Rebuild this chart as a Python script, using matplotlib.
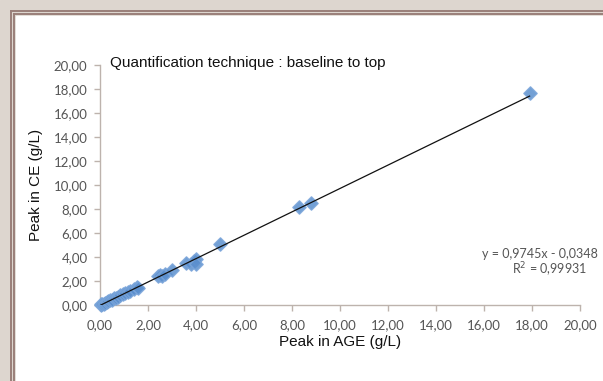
import matplotlib
matplotlib.use("Agg")
import matplotlib.pyplot as plt
from matplotlib.patches import Rectangle
from matplotlib.ticker import FuncFormatter, MultipleLocator
import numpy as np

# Data (Peak in AGE vs Peak in CE, g/L)
age = [0.03, 0.06, 0.10, 0.15, 0.20, 0.28, 0.35, 0.42, 0.50, 0.58, 0.65, 0.75, 0.85,
       0.95, 1.05, 1.15, 1.25, 1.40, 1.55, 1.60,
       2.40, 2.50, 2.60, 2.70, 3.00, 3.60, 3.80, 3.90, 4.00, 4.00,
       5.00, 8.30, 8.80, 17.90]
ce = [0.02, 0.05, 0.08, 0.12, 0.18, 0.25, 0.32, 0.38, 0.45, 0.55, 0.62, 0.70, 0.80,
      0.90, 1.00, 1.10, 1.20, 1.35, 1.50, 1.40,
      2.40, 2.50, 2.45, 2.60, 2.95, 3.50, 3.45, 3.70, 3.85, 3.40,
      5.05, 8.15, 8.50, 17.65]
slope = 0.9745
intercept = -0.0348
title = "Quantification technique : baseline to top"
eq_text = "y = 0,9745x - 0,0348"
r2_text = "R$^{2}$ = 0,99931"

W, H = 603, 381
fig = plt.figure(figsize=(W / 100, H / 100), dpi=100)
fig.patch.set_facecolor("white")

# frame decoration
bg = "#ddd6cf"
line_c = "#9a7f79"
fig.patches.append(Rectangle((0, 0), 1, 1, transform=fig.transFigure, color=bg, zorder=-10))
fig.patches.append(Rectangle((16 / W, 0), 1, 1 - 16 / H, transform=fig.transFigure,
                             color="white", zorder=-9))
for off in (10.5, 13.5):
    fig.lines.append(plt.Line2D([off / W, off / W], [0, 1 - off / H], transform=fig.transFigure,
                                color=line_c, lw=1.4, zorder=-8))
    fig.lines.append(plt.Line2D([off / W, 1], [1 - off / H, 1 - off / H], transform=fig.transFigure,
                                color=line_c, lw=1.4, zorder=-8))

ax = fig.add_axes([100 / W, (H - 305) / H, 480 / W, 240 / H])
ax.set_xlim(0, 20)
ax.set_ylim(0, 20)
ax.set_facecolor("none")

ax.scatter(age, ce, marker="D", s=46, color="#5b8fce", edgecolors="#7aa5da",
           linewidths=1.0, alpha=0.85, zorder=3, clip_on=False)
xs = np.array([min(age), max(age)])
ax.plot(xs, slope * xs + intercept, color="#111111", lw=0.9, zorder=4)

fmt = FuncFormatter(lambda v, p: f"{v:.2f}".replace(".", ","))
ax.xaxis.set_major_locator(MultipleLocator(2))
ax.yaxis.set_major_locator(MultipleLocator(2))
ax.xaxis.set_major_formatter(fmt)
ax.yaxis.set_major_formatter(fmt)

axis_c = "#bdb3ad"
for s in ("top", "right"):
    ax.spines[s].set_visible(False)
for s in ("left", "bottom"):
    ax.spines[s].set_color(axis_c)
    ax.spines[s].set_linewidth(1.0)
ax.tick_params(axis="both", direction="out", length=4, width=1, color=axis_c,
               labelcolor="#555555", labelsize=9.5)
for lab in ax.get_xticklabels() + ax.get_yticklabels():
    lab.set_family("Lato")
ax.tick_params(axis="x", pad=6)
ax.tick_params(axis="y", pad=5)

ax.set_xlabel("Peak in AGE (g/L)", family="Liberation Sans", fontsize=11, color="#111111",
              labelpad=3)
ax.set_ylabel("Peak in CE (g/L)", family="Liberation Sans", fontsize=11, color="#111111",
              labelpad=8)

fig.text(110 / W, 1 - 63 / H, title, family="Liberation Sans", fontsize=11,
         color="#111111", va="center", ha="left")
fig.text(598 / W, 1 - 254 / H, eq_text, family="Lato", fontsize=9, color="#555555",
         ha="right", va="center")
fig.text(550 / W, 1 - 270 / H, r2_text, family="Lato", fontsize=9, color="#555555",
         ha="center", va="center")

fig.savefig("out.png", dpi=100)
